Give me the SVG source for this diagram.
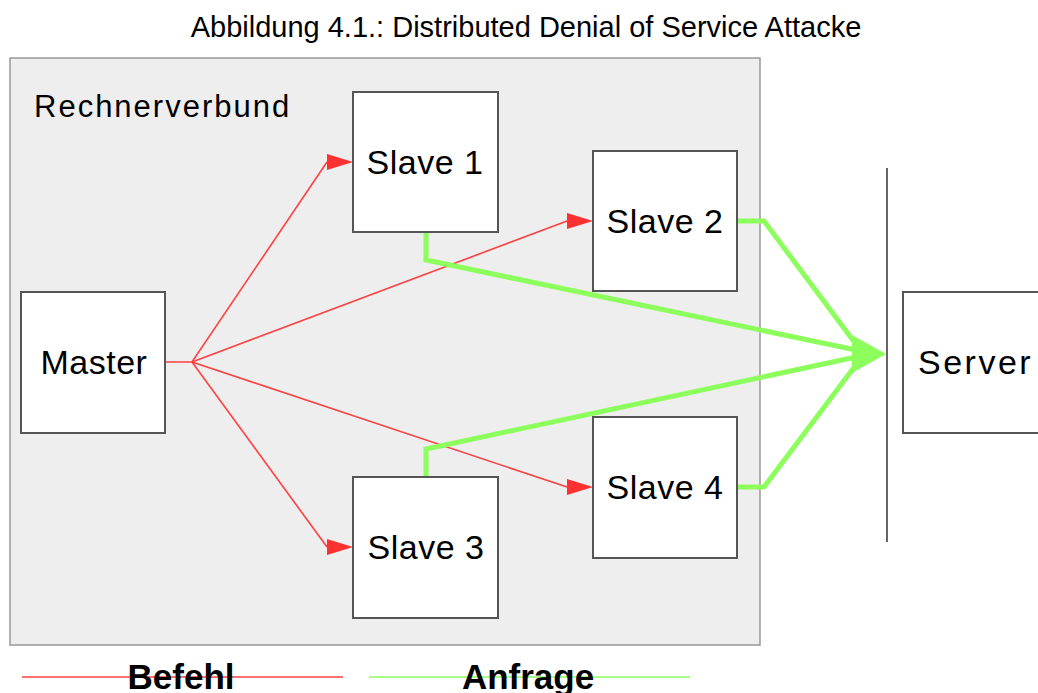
<svg xmlns="http://www.w3.org/2000/svg" width="1038" height="693" viewBox="0 0 1038 693">
<defs>
<style>
text{font-family:"Liberation Sans",Arial,sans-serif;fill:#000}
.node rect{fill:#fff;stroke:#555;stroke-width:2}
.lbl{font-size:34px;text-anchor:middle;letter-spacing:0.5px}
.red{fill:none;stroke:#ff4040;stroke-width:1.6}
.green{fill:none;stroke:#8cff5c;stroke-width:5;stroke-linejoin:miter}
.leg{font-size:35px;font-weight:bold;text-anchor:middle}
</style>
<marker id="ra" markerUnits="userSpaceOnUse" markerWidth="28" markerHeight="18" refX="0" refY="8" orient="0">
<polygon points="0,0 26,8 0,16" fill="#ff3030"/>
</marker>
</defs>
<rect x="10" y="58" width="750" height="587" fill="#eeeeee" stroke="#999" stroke-width="1.5"/>
<text x="526" y="37" text-anchor="middle" style="font-size:29px">Abbildung 4.1.: Distributed Denial of Service Attacke</text>
<text x="34" y="117" style="font-size:31px;letter-spacing:2px">Rechnerverbund</text>
<line x1="887" y1="168" x2="887" y2="542" stroke="#333" stroke-width="1.5"/>
<g id="connectors">
<polyline class="red" points="165,362 192,362 327,162" marker-end="url(#ra)"/>
<polyline class="red" points="192,362 567,221" marker-end="url(#ra)"/>
<polyline class="red" points="192,362 327,547" marker-end="url(#ra)"/>
<polyline class="red" points="192,362 567,487" marker-end="url(#ra)"/>
<polyline class="green" points="426,232 426,260 856,350"/>
<polyline class="green" points="426,477 426,449 856,357"/>
<polyline class="green" points="737,221 764,221 858,347"/>
<polyline class="green" points="737,487 764,487 858,362"/>
<polygon points="852,335 886,354 852,373" fill="#8cff5c"/>
</g>
<g id="master" class="node"><rect x="21" y="292" width="144" height="141"/><text class="lbl" x="94" y="374">Master</text></g>
<g id="slave1" class="node"><rect x="353" y="92" width="145" height="140"/><text class="lbl" x="425" y="174">Slave 1</text></g>
<g id="slave2" class="node"><rect x="593" y="151" width="144" height="140"/><text class="lbl" x="665" y="233">Slave 2</text></g>
<g id="slave3" class="node"><rect x="353" y="477" width="145" height="141"/><text class="lbl" x="426" y="559">Slave 3</text></g>
<g id="slave4" class="node"><rect x="593" y="417" width="144" height="141"/><text class="lbl" x="665" y="499">Slave 4</text></g>
<g id="server" class="node"><rect x="903" y="292" width="140" height="141"/><text x="918" y="374" style="font-size:34px;letter-spacing:2.5px">Server</text></g>
<g id="legend">
<line x1="22" y1="677" x2="343" y2="677" stroke="#ff4040" stroke-width="1.6"/>
<text class="leg" x="181" y="689">Befehl</text>
<line x1="369" y1="677" x2="690" y2="677" stroke="#8cff5c" stroke-width="1.6"/>
<text class="leg" x="528" y="689">Anfrage</text>
</g>
</svg>
